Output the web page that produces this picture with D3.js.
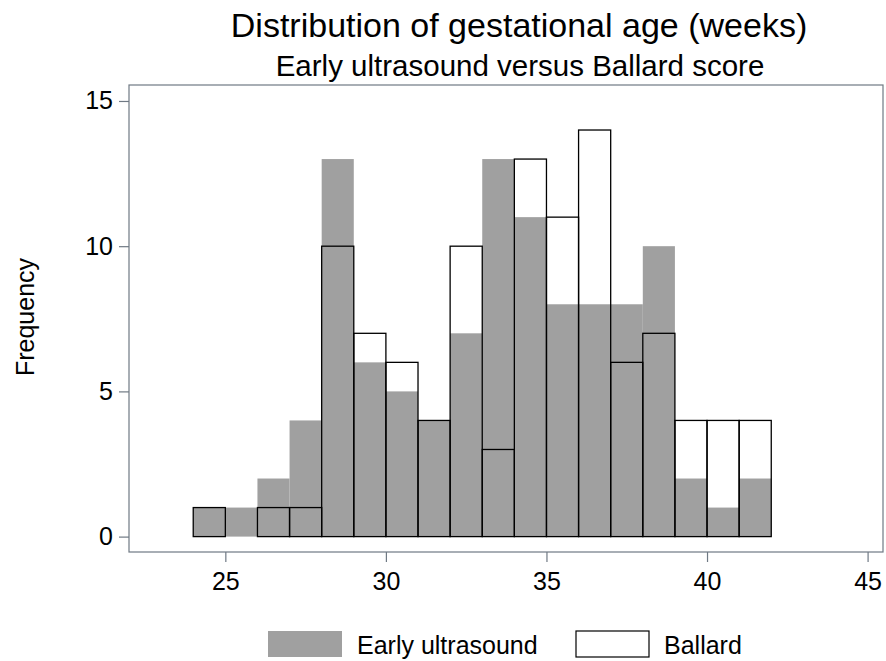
<!DOCTYPE html>
<html lang="en">
<head>
    <meta charset="UTF-8">
    <title>Distribution of gestational age (weeks)</title>
    <script src="https://d3js.org/d3.v7.min.js"></script>
    <style>
        body {
            margin: 0;
            background: #ffffff;
            font-family: "Liberation Sans", Arial, sans-serif;
        }
    </style>
</head>
<body>
    <svg id="chart" width="886" height="661"></svg>

    <script>
        // bins are one week wide, starting at 24
        const binStarts = [24, 25, 26, 27, 28, 29, 30, 31, 32, 33, 34, 35, 36, 37, 38, 39, 40, 41];
        const ultrasound = [1, 1, 2, 4, 13, 6, 5, 4, 7, 13, 11, 8, 8, 8, 10, 2, 1, 2];
        const ballard = [1, 0, 1, 1, 10, 7, 6, 4, 10, 3, 13, 11, 14, 6, 7, 4, 4, 4];
        const xTicks = [25, 30, 35, 40, 45];
        const yTicks = [0, 5, 10, 15];
        const binWidth = 1;

        const svg = d3.select("#chart");
        const plot = { left: 129, right: 883, top: 85, bottom: 552 };
        const axisColor = "#6f7984";
        const grey = "#a0a0a0";

        const x = d3.scaleLinear().domain([22, 45.48]).range([plot.left, plot.right]);
        const y = d3.scaleLinear().domain([-0.53, 15.55]).range([plot.bottom, plot.top]);

        // plot border
        svg.append("rect")
            .attr("x", plot.left).attr("y", plot.top)
            .attr("width", plot.right - plot.left).attr("height", plot.bottom - plot.top)
            .attr("fill", "#fff").attr("stroke", axisColor).attr("stroke-width", 1.2);

        // gray bars
        svg.append("g").selectAll("rect")
            .data(binStarts)
            .join("rect")
            .attr("x", (d) => x(d))
            .attr("width", x(binWidth) - x(0))
            .attr("y", (d, i) => y(ultrasound[i]))
            .attr("height", (d, i) => y(0) - y(ultrasound[i]))
            .attr("fill", grey);

        // Ballard outline bars (no fill)
        const ballardBins = binStarts.map((d, i) => ({ start: d, n: ballard[i] })).filter(d => d.n > 0);
        svg.append("g").selectAll("rect")
            .data(ballardBins)
            .join("rect")
            .attr("x", (d) => x(d.start))
            .attr("width", x(binWidth) - x(0))
            .attr("y", (d) => y(d.n))
            .attr("height", (d) => y(0) - y(d.n))
            .attr("fill", "none")
            .attr("stroke", "#000")
            .attr("stroke-width", 1.3);

        // axes
        const xAxis = svg.append("g")
            .attr("transform", `translate(0,${plot.bottom})`)
            .call(d3.axisBottom(x).tickValues(xTicks).tickSize(10).tickPadding(10));
        const yAxis = svg.append("g")
            .attr("transform", `translate(${plot.left},0)`)
            .call(d3.axisLeft(y).tickValues(yTicks).tickSize(10).tickPadding(6));

        [xAxis, yAxis].forEach(g => {
            g.select(".domain").remove();
            g.selectAll("line").attr("stroke", axisColor).attr("stroke-width", 1.2);
            g.selectAll("text")
                .attr("fill", "#000")
                .style("font-family", "Liberation Sans, Arial, sans-serif")
                .style("font-size", "25px");
        });

        // titles
        svg.append("text")
            .attr("x", 519).attr("y", 37)
            .attr("text-anchor", "middle")
            .style("font-size", "34px")
            .text("Distribution of gestational age (weeks)");

        svg.append("text")
            .attr("x", 520).attr("y", 76)
            .attr("text-anchor", "middle")
            .style("font-size", "29.5px")
            .text("Early ultrasound versus Ballard score");

        svg.append("text")
            .attr("transform", `translate(34,317) rotate(-90)`)
            .attr("text-anchor", "middle")
            .style("font-size", "25px")
            .text("Frequency");

        // legend
        const legend = svg.append("g");
        legend.append("rect")
            .attr("x", 268).attr("y", 631).attr("width", 74).attr("height", 26)
            .attr("fill", grey);
        legend.append("text")
            .attr("x", 357).attr("y", 654)
            .style("font-size", "25px")
            .text("Early ultrasound");
        legend.append("rect")
            .attr("x", 576).attr("y", 631).attr("width", 73).attr("height", 26)
            .attr("fill", "#fff").attr("stroke", "#000").attr("stroke-width", 1.2);
        legend.append("text")
            .attr("x", 664).attr("y", 654)
            .style("font-size", "25px")
            .text("Ballard");
    </script>
</body>
</html>
